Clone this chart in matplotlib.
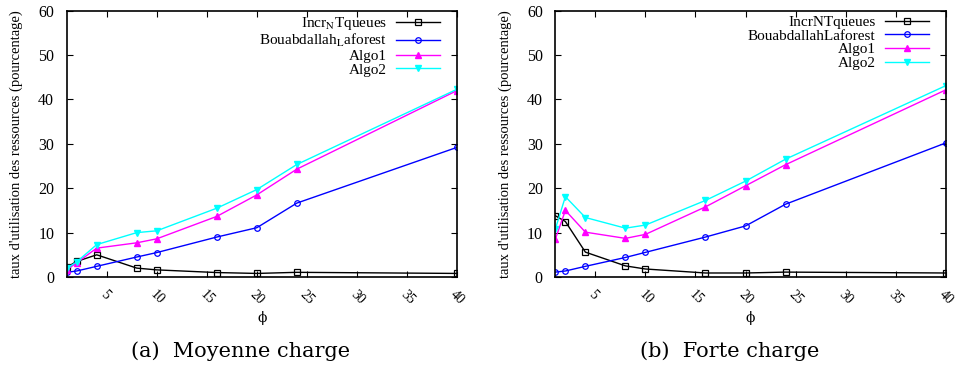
import matplotlib
matplotlib.use('Agg')
import matplotlib.pyplot as plt

# données
phi = [1, 2, 4, 8, 10, 16, 20, 24, 40]

moy_incr = [2.2, 3.5, 5.0, 2.0, 1.6, 1.0, 0.8, 1.05, 0.8]
moy_bouab = [1.05, 1.35, 2.4, 4.5, 5.5, 9.0, 11.1, 16.65, 29.2]
moy_algo1 = [1.6, 3.2, 6.5, 7.7, 8.6, 13.65, 18.5, 24.3, 42.0]
moy_algo2 = [1.95, 3.4, 7.3, 10.0, 10.4, 15.5, 19.7, 25.35, 42.3]

forte_incr = [13.8, 12.5, 5.6, 2.5, 1.8, 0.9, 0.9, 1.1, 0.9]
forte_bouab = [1.1, 1.35, 2.4, 4.4, 5.55, 9.0, 11.5, 16.4, 30.2]
forte_algo1 = [8.55, 15.0, 10.1, 8.7, 9.6, 15.8, 20.55, 25.3, 42.15]
forte_algo2 = [10.8, 18.1, 13.4, 11.0, 11.7, 17.25, 21.6, 26.55, 43.1]

yticks = [0, 10, 20, 30, 40, 50, 60]
xticks = [5, 10, 15, 20, 25, 30, 35, 40]

plt.rcParams['font.family'] = ['Liberation Serif', 'DejaVu Serif']
plt.rcParams['mathtext.fontset'] = 'stix'

fig = plt.figure(figsize=(9.61, 3.74), dpi=100)
ax_a = fig.add_axes([0.0694, 0.2594, 0.4061, 0.712])
ax_b = fig.add_axes([0.5779, 0.2594, 0.4062, 0.712])


def draw(ax, incr, bouab, a1, a2, labels, caption):
    ax.plot(phi, incr, color='black', marker='s', markersize=4, mfc='none',
            mew=0.9, lw=1, label=labels[0])
    ax.plot(phi, bouab, color='#0000ff', marker='o', markersize=4, mfc='none',
            mew=0.9, lw=1, label=labels[1])
    ax.plot(phi, a1, color='#ff00ff', marker='^', markersize=4, lw=1, label=labels[2])
    ax.plot(phi, a2, color='#00ffff', marker='v', markersize=4, lw=1, label=labels[3])
    ax.set_xlim(1, 40)
    ax.set_ylim(0, 60)
    ax.set_yticks(yticks)
    ax.set_xticks(xticks)
    ax.tick_params(direction='in', top=True, right=True, length=4, width=0.8)
    ax.tick_params(axis='y', labelsize=11.5, pad=9)
    ax.tick_params(axis='x', labelsize=10, pad=8)
    for t in ax.get_xticklabels():
        t.set_rotation(-45)
        t.set_ha('left')
        t.set_va('top')
        t.set_rotation_mode('anchor')
    for s in ax.spines.values():
        s.set_linewidth(1.2)
    ax.set_ylabel("taux d'utilisation des ressources (pourcentage)", fontsize=10.5, labelpad=11)
    ax.set_xlabel("ϕ", fontsize=10, labelpad=3, family=['DejaVu Serif'])
    ax.legend(loc='upper right', bbox_to_anchor=(0.973, 1.006), frameon=False,
              markerfirst=False, fontsize=11, handlelength=2.9, handletextpad=0.6,
              labelspacing=0.0, borderaxespad=0.0)
    pos = ax.get_position()
    fig.text((pos.x0 + pos.x1) / 2 - 0.022, 0.06, caption, ha='center', va='center',
             fontsize=15, family=['DejaVu Serif'])


draw(ax_a, moy_incr, moy_bouab, moy_algo1, moy_algo2,
     ['Incr$_{\\mathrm{N}}$Tqueues', 'Bouabdallah$_{\\mathrm{L}}$aforest', 'Algo1', 'Algo2'],
     '(a)  Moyenne charge')
draw(ax_b, forte_incr, forte_bouab, forte_algo1, forte_algo2,
     ['IncrNTqueues', 'BouabdallahLaforest', 'Algo1', 'Algo2'],
     '(b)  Forte charge')

fig.savefig('out.png', dpi=100)
